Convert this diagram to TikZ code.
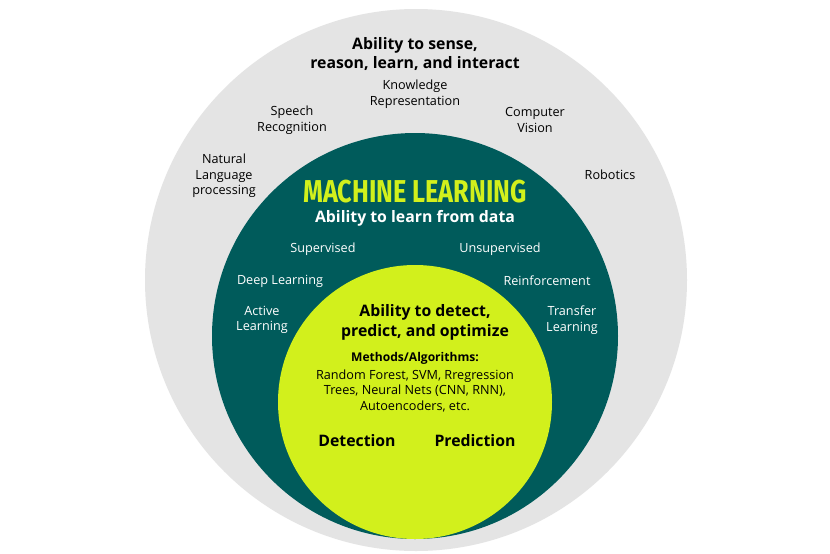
\documentclass[tikz,border=0pt]{standalone}
\usepackage{fontspec}
\setmainfont{Open Sans}
\newfontfamily\titlefont{Fira Sans}
\definecolor{ringgrey}{HTML}{E4E4E4}
\definecolor{mlteal}{HTML}{005B5B}
\definecolor{mllime}{HTML}{D2F01C}
\begin{document}
\begin{tikzpicture}[x=0.03cm,y=-0.03cm,
    lbl/.style={align=center,font=\fontsize{10.8}{13.3}\selectfont,inner sep=0pt},
    wlbl/.style={lbl,text=white},
    head/.style={align=center,font=\fontsize{13.5}{17}\selectfont\bfseries,inner sep=0pt}]
  \useasboundingbox[fill=white] (0,0) rectangle (830,553);
  % circles
  \fill[ringgrey] (416,280) circle (271);
  \fill[mlteal] (415,336) circle (203);
  \fill[mllime] (415,402) circle (137);
  % outer ring
  \node[head] (sense) at (415,54) {Ability to sense,\\reason, learn, and interact};
  \node[lbl] (know) at (415,94) {Knowledge\\Representation};
  \node[lbl] (speech) at (292,120) {Speech\\Recognition};
  \node[lbl] (vision) at (535,120) {Computer\\Vision};
  \node[lbl] (nlp) at (224,176) {Natural\\Language\\processing};
  \node[lbl] (robot) at (610,175) {Robotics};
  % machine learning ring
  \node[inner sep=0pt,text=mllime] (ml) at (415,192)
    {\titlefont\bfseries\fontsize{27}{27}\selectfont\scalebox{0.8}[1]{MACHINE LEARNING}};
  \node[head,text=white] (learn) at (415,218) {Ability to learn from data};
  \node[wlbl] (sup) at (323,249) {Supervised};
  \node[wlbl] (unsup) at (500,249) {Unsupervised};
  \node[wlbl] (deep) at (280,281) {Deep Learning};
  \node[wlbl] (reinf) at (547,281) {Reinforcement};
  \node[wlbl] (active) at (262,320) {Active\\Learning};
  \node[wlbl] (transfer) at (572,320) {Transfer\\Learning};
  % inner circle
  \node[head] (detect) at (425,322) {Ability to detect,\\predict, and optimize};
  \node[lbl,font=\fontsize{10.3}{12.5}\selectfont\bfseries] (methods) at (415,358) {Methods/Algorithms:};
  \node[lbl] (algos) at (415,391) {Random Forest, SVM, Rregression\\Trees, Neural Nets (CNN, RNN),\\Autoencoders, etc.};
  \node[head] (detection) at (357,441) {Detection};
  \node[head] (prediction) at (475,441) {Prediction};
\end{tikzpicture}
\end{document}
